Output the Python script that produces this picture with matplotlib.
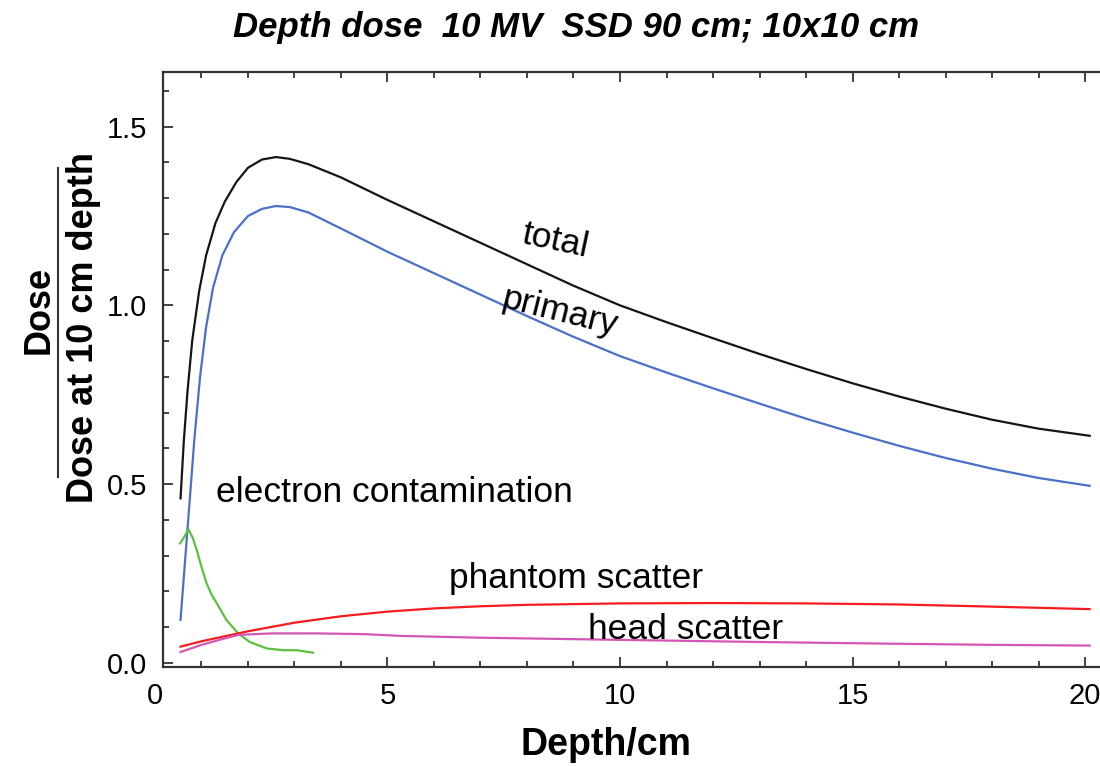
import matplotlib
matplotlib.use("Agg")
import matplotlib.pyplot as plt
from matplotlib.lines import Line2D
from matplotlib.ticker import MultipleLocator, FixedLocator
from matplotlib.transforms import blended_transform_factory

plt.rcParams['font.family'] = ['Liberation Sans', 'DejaVu Sans']

# ---- data ----
total_x = [0.55, 0.62, 0.70, 0.80, 0.95, 1.10, 1.30, 1.50, 1.75, 2.0, 2.3, 2.6, 2.9, 3.3, 4.0,
           5.0, 6.0, 7.0, 8.0, 9.0, 10.0, 11.0, 12.0, 13.0, 14.0, 15.0, 16.0, 17.0, 18.0,
           19.0, 20.1]
total_y = [0.46, 0.62, 0.76, 0.90, 1.04, 1.14, 1.23, 1.29, 1.345, 1.385, 1.408, 1.415, 1.41,
           1.395, 1.358, 1.295, 1.235, 1.175, 1.115, 1.055, 1.00, 0.953, 0.908, 0.864, 0.822,
           0.782, 0.745, 0.711, 0.680, 0.655, 0.635]

primary_x = [0.55, 0.65, 0.75, 0.85, 0.97, 1.10, 1.25, 1.45, 1.70, 2.0, 2.3, 2.6, 2.9, 3.3,
             4.0, 5.0, 6.0, 7.0, 8.0, 9.0, 10.0, 11.0, 12.0, 13.0, 14.0, 15.0, 16.0, 17.0,
             18.0, 19.0, 20.1]
primary_y = [0.12, 0.29, 0.46, 0.63, 0.80, 0.94, 1.05, 1.14, 1.205, 1.25, 1.27, 1.278, 1.275,
             1.26, 1.215, 1.150, 1.090, 1.030, 0.970, 0.912, 0.858, 0.812, 0.768, 0.725,
             0.683, 0.644, 0.607, 0.573, 0.543, 0.517, 0.495]

electron_x = [0.54, 0.63, 0.72, 0.81, 0.90, 1.00, 1.11, 1.22, 1.33, 1.54, 1.79, 2.04, 2.40,
              2.76, 3.05, 3.40]
electron_y = [0.334, 0.352, 0.373, 0.350, 0.315, 0.268, 0.222, 0.190, 0.166, 0.119, 0.082,
              0.058, 0.040, 0.035, 0.035, 0.028]

phantom_x = [0.55, 1.0, 2.0, 3.0, 4.0, 5.0, 6.0, 7.0, 8.0, 9.0, 10.0, 12.0, 14.0, 16.0,
             18.0, 20.1]
phantom_y = [0.045, 0.060, 0.088, 0.112, 0.130, 0.143, 0.152, 0.158, 0.162, 0.164, 0.166,
             0.167, 0.166, 0.163, 0.157, 0.150]

head_x = [0.55, 1.0, 1.5, 1.8, 2.5, 3.5, 4.5, 5.3, 7.0, 10.0, 13.0, 16.0, 18.0, 20.1]
head_y = [0.030, 0.050, 0.068, 0.078, 0.082, 0.082, 0.080, 0.075, 0.070, 0.064, 0.058,
          0.053, 0.050, 0.048]

x_ticks = [0, 5, 10, 15, 20]
x_tick_labels = ["0", "5", "10", "15", "20"]
y_ticks = [0.0, 0.5, 1.0, 1.5]
y_tick_labels = ["0.0", "0.5", "1.0", "1.5"]

W, H = 1100, 766
fig = plt.figure(figsize=(W / 100, H / 100), dpi=100)
ax = fig.add_axes([0.1479, 0.1296, 0.8554, 0.7764])

lw = 1.6
ax.plot(total_x, total_y, color='#151515', lw=lw)
ax.plot(primary_x, primary_y, color='#4a70c8', lw=lw)
ax.plot(electron_x, electron_y, color='#5cc040', lw=lw)
ax.plot(phantom_x, phantom_y, color='#f41c1c', lw=lw)
ax.plot(head_x, head_y, color='#d456b4', lw=lw)

XMIN, XMAX = 0.166, 20.4
ax.set_xlim(XMIN, XMAX)
ax.set_ylim(-0.0112, 1.653)

tick_fs = 21
ax.xaxis.set_major_locator(FixedLocator(x_ticks))
ax.xaxis.set_minor_locator(MultipleLocator(1))
ax.set_xticklabels(x_tick_labels)
ax.yaxis.set_major_locator(FixedLocator(y_ticks))
ax.yaxis.set_minor_locator(MultipleLocator(0.1))
ax.set_yticklabels(y_tick_labels)

ax.tick_params(which='both', direction='in', top=True, right=False, width=1.2, color='#222222')
ax.tick_params(which='major', length=7, labelsize=tick_fs, pad=11)
ax.tick_params(which='minor', length=4)
for s in ['left', 'bottom', 'top']:
    ax.spines[s].set_linewidth(1.6)
    ax.spines[s].set_color('#333333')
ax.spines['right'].set_visible(False)

# tick label for 0, which lies just left of the frame
trans = blended_transform_factory(ax.transData, ax.transAxes)
for xv, lab in zip(x_ticks, x_tick_labels):
    if xv < XMIN:
        ax.text(xv, -0.0265, lab, transform=trans, fontsize=tick_fs, ha='center', va='top',
                clip_on=False)

# x label
fig.text(606 / W, 1 - 745 / H, 'Depth/cm', fontsize=27, fontweight='bold',
         ha='center', va='center')

# curve labels
ann_fs = 25.5
ax.text(8.6, 1.18, 'total', fontsize=ann_fs, rotation=-12, ha='center', va='center')
ax.text(8.7, 0.98, 'primary', fontsize=ann_fs, rotation=-14, ha='center', va='center')
ax.text(5.15, 0.475, 'electron contamination', fontsize=ann_fs, ha='center', va='center')
ax.text(9.05, 0.237, 'phantom scatter', fontsize=ann_fs, ha='center', va='center')
ax.text(11.4, 0.092, 'head scatter', fontsize=ann_fs, ha='center', va='center')

# title
fig.text(576 / W, 1 - 27 / H, 'Depth dose  10 MV  SSD 90 cm; 10x10 cm', fontsize=25,
         fontweight='bold', fontstyle='italic', ha='center', va='center')

# fraction y-label
fig.text(39 / W, 1 - 310 / H, 'Dose', fontsize=26, fontweight='bold', rotation=90,
         ha='center', va='center')
fig.add_artist(Line2D([58 / W, 58 / W], [1 - 168 / H, 1 - 477 / H], color='#333333', lw=1.5,
                      transform=fig.transFigure))
fig.text(84 / W, 1 - 328 / H, 'Dose at 10 cm depth', fontsize=26, fontweight='bold',
         rotation=90, ha='center', va='center')

fig.savefig('out.png', dpi=100)
